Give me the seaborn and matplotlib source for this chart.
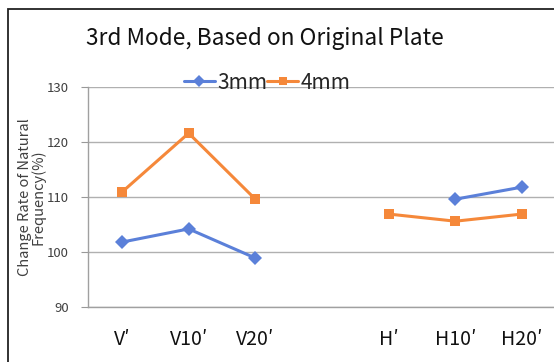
import numpy as np
import pandas as pd
import matplotlib
matplotlib.use("Agg")
import matplotlib.pyplot as plt
import seaborn as sns
from matplotlib.patches import Rectangle
from matplotlib.lines import Line2D

categories = ["V′", "V10′", "V20′", "", "H′", "H10′", "H20′"]
mm3 = [101.8, 104.2, 98.9, np.nan, np.nan, 109.6, 111.8]
mm4 = [110.9, 121.6, 109.6, np.nan, 106.9, 105.6, 106.9]
series_names = ["3mm", "4mm"]
yticks = [90, 100, 110, 120, 130]

sns.set_theme(style="white")
plt.rcParams["font.family"] = ["Noto Sans CJK KR", "DejaVu Sans"]

# long-format table; a segment id splits each series where a value is missing
rows = []
for name, vals in zip(series_names, [mm3, mm4]):
    seg = 0
    for i, v in enumerate(vals):
        if np.isnan(v):
            seg += 1
            continue
        rows.append({"pos": i, "value": v, "series": name, "seg": f"{name}-{seg}"})
df = pd.DataFrame(rows)

palette = {"3mm": "#5B80D9", "4mm": "#F5883A"}
markers = {"3mm": "D", "4mm": "s"}

fig = plt.figure(figsize=(5.54, 3.62), dpi=100)
ax = fig.add_axes([88 / 554, 55 / 362, 1 - 88 / 554, 220 / 362])

sns.lineplot(data=df, x="pos", y="value", hue="series", style="series",
             units="seg", estimator=None, palette=palette, markers=markers,
             dashes=False, linewidth=2.2, markersize=7, markeredgewidth=0,
             ax=ax, legend=False)

ax.set_xlim(-0.51, 6.48)
ax.set_ylim(90, 130)
ax.set_yticks(yticks)
ax.set_yticklabels([str(t) for t in yticks], fontsize=9.5, color="#404040")
ax.set_xticks(range(len(categories)))
ax.set_xticklabels(categories, fontsize=14, color="#111111")
ax.tick_params(axis="x", length=0, pad=16)
ax.tick_params(axis="y", length=5, width=0.8, color="#999999", left=True, pad=9)
ax.grid(axis="y", color="#b0b0b0", linewidth=1.0)
ax.set_axisbelow(True)
for s in ["top", "right"]:
    ax.spines[s].set_visible(False)
for s in ["left", "bottom"]:
    ax.spines[s].set_color("#a0a0a0")
    ax.spines[s].set_linewidth(1.0)
ax.set_xlabel("")
ax.set_ylabel("")

fig.text(0.479, 0.893, "3rd Mode, Based on Original Plate", ha="center",
         va="center", fontsize=16.3, fontweight="medium", color="#111111")
fig.text(0.057, 0.456, "Change Rate of Natural\nFrequency(%)", rotation=90,
         ha="center", va="center", fontsize=10.5, color="#404040",
         linespacing=0.9)

handles = [Line2D([], [], color=palette[n], marker=markers[n], lw=2.2,
                  markersize=6, markeredgewidth=0) for n in series_names]
fig.legend(handles, series_names, loc="center", bbox_to_anchor=(0.482, 0.772),
           ncol=2, frameon=False, fontsize=15, handlelength=1.5,
           handletextpad=0.1, columnspacing=0.0, borderpad=0)

fig.add_artist(Rectangle((8 / 554, -0.1), 1.2, 1 - 9 / 362 + 0.1,
                         transform=fig.transFigure, fill=False,
                         edgecolor="#222222", linewidth=1.3))

fig.savefig("out.png", dpi=100)
